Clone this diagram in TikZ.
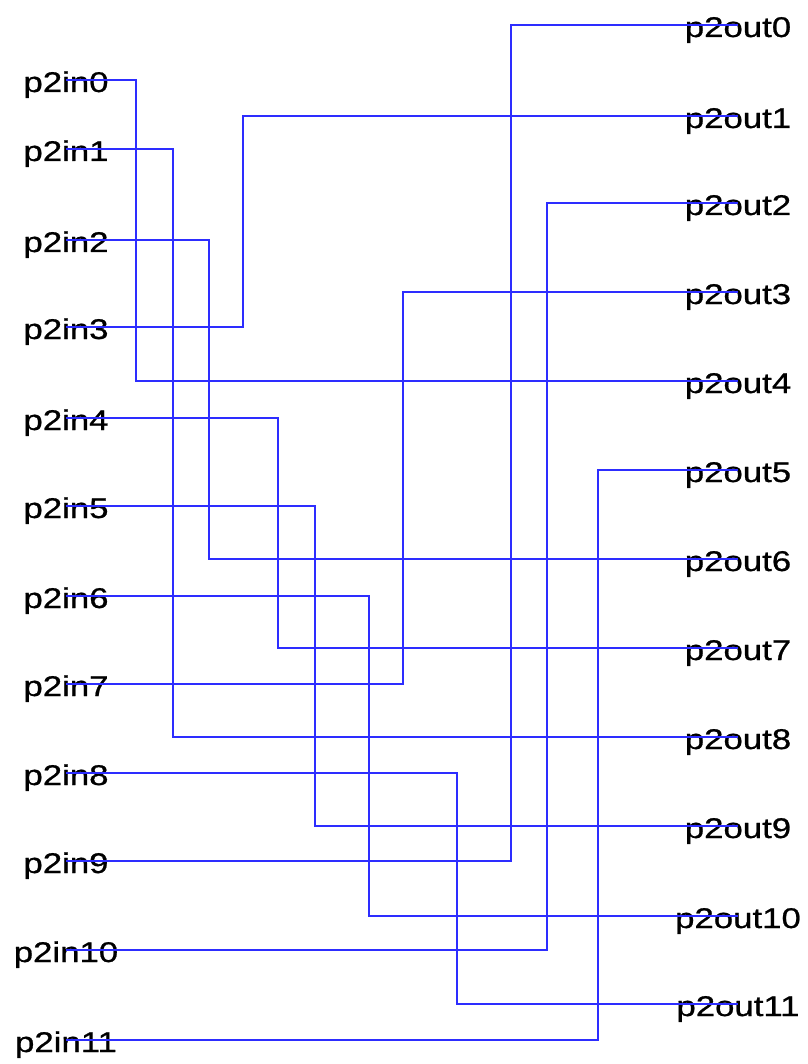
\documentclass[tikz,border=0pt]{standalone}
\usepackage{fontspec}
\newfontfamily\labfont[FakeStretch=1.22,FakeBold=0.8]{Liberation Sans}
\definecolor{wire}{RGB}{45,45,255}
\begin{document}
\begin{tikzpicture}[x=1pt,y=-1pt,
  lab/.style={anchor=base,yshift=-12pt,inner sep=0pt,font=\labfont\fontsize{28.5}{30}\selectfont},
  wireline/.style={draw=wire,line width=2.2pt}]
\useasboundingbox (0,0) rectangle (807,1064);
% left ends
\coordinate (a0) at (66,80);
\coordinate (a1) at (66,149);
\coordinate (a2) at (66,240);
\coordinate (a3) at (66,327);
\coordinate (a4) at (66,418);
\coordinate (a5) at (66,506);
\coordinate (a6) at (66,596);
\coordinate (a7) at (66,684);
\coordinate (a8) at (66,773);
\coordinate (a9) at (66,861);
\coordinate (a10) at (66,950);
\coordinate (a11) at (66,1040);
% right ends
\coordinate (b0) at (738,25);
\coordinate (b1) at (738,116);
\coordinate (b2) at (738,203);
\coordinate (b3) at (738,292);
\coordinate (b4) at (738,381);
\coordinate (b5) at (738,470);
\coordinate (b6) at (738,559);
\coordinate (b7) at (738,648);
\coordinate (b8) at (738,737);
\coordinate (b9) at (738,826);
\coordinate (b10) at (738,916);
\coordinate (b11) at (738,1004);
% labels
\foreach \i in {0,...,11} {
  \node[lab] (in\i) at (a\i) {p2in\i};
  \node[lab] (out\i) at (b\i) {p2out\i};
}
% wires
\draw[wireline] (a0) -- ++(70,0) |- (b4);
\draw[wireline] (a1) -- ++(107,0) |- (b8);
\draw[wireline] (a2) -- ++(143,0) |- (b6);
\draw[wireline] (a3) -- ++(177,0) |- (b1);
\draw[wireline] (a4) -- ++(212,0) |- (b7);
\draw[wireline] (a5) -- ++(249,0) |- (b9);
\draw[wireline] (a6) -- ++(303,0) |- (b10);
\draw[wireline] (a7) -- ++(337,0) |- (b3);
\draw[wireline] (a8) -- ++(391,0) |- (b11);
\draw[wireline] (a9) -- ++(445,0) |- (b0);
\draw[wireline] (a10) -- ++(481,0) |- (b2);
\draw[wireline] (a11) -- ++(532,0) |- (b5);
\end{tikzpicture}
\end{document}
